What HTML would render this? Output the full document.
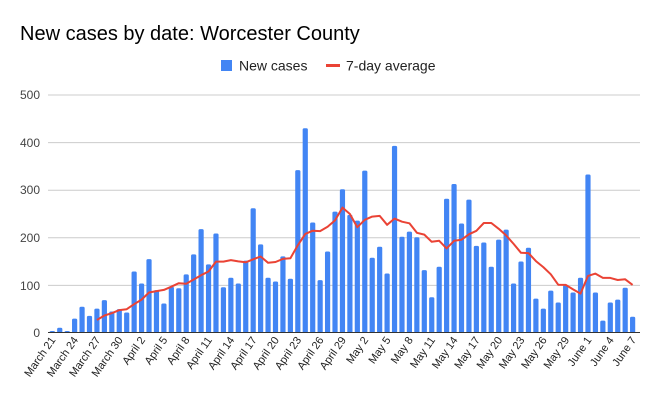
<!DOCTYPE html>
<html><head><meta charset="utf-8"><style>
body{margin:0;background:#fff;}
svg{display:block;font-family:"Liberation Sans",Arial,sans-serif;}
</style></head><body>
<svg id="s" width="658" height="407" viewBox="0 0 658 407">
<rect width="658" height="407" fill="#fff"/>
<text x="20" y="40" font-size="20" fill="#000">New cases by date: Worcester County</text>
<rect x="221" y="60" width="11" height="11" fill="#4285f4"/>
<text x="239" y="70.5" font-size="14" fill="#222">New cases</text>
<line x1="326" y1="65.5" x2="340" y2="65.5" stroke="#ea4335" stroke-width="3"/>
<text x="346" y="70.5" font-size="14" fill="#222">7-day average</text>
<g stroke="#ccc" stroke-width="1">
<line x1="48" x2="640" y1="95" y2="95"/>
<line x1="48" x2="640" y1="142.6" y2="142.6"/>
<line x1="48" x2="640" y1="190.2" y2="190.2"/>
<line x1="48" x2="640" y1="237.8" y2="237.8"/>
<line x1="48" x2="640" y1="285.4" y2="285.4"/>
</g>
<g font-size="12" fill="#444" text-anchor="end">
<text x="40" y="99">500</text>
<text x="40" y="147">400</text>
<text x="40" y="194">300</text>
<text x="40" y="242">200</text>
<text x="40" y="290">100</text>
<text x="40" y="337">0</text>
</g>
<g id="bars"></g>
<line x1="48" x2="640" y1="332.5" y2="332.5" stroke="#333" stroke-width="1"/>
<polyline id="avg" fill="none" stroke="#ea4335" stroke-width="2" stroke-linejoin="round"/>
<g font-size="11" fill="#222" text-anchor="end">
<text transform="translate(56,340) rotate(-55)">March 21</text>
<text transform="translate(78.6,340) rotate(-55)">March 24</text>
<text transform="translate(100.9,340) rotate(-55)">March 27</text>
<text transform="translate(123.3,340) rotate(-55)">March 30</text>
<text transform="translate(145.6,340) rotate(-55)">April 2</text>
<text transform="translate(167.9,340) rotate(-55)">April 5</text>
<text transform="translate(190.2,340) rotate(-55)">April 8</text>
<text transform="translate(212.5,340) rotate(-55)">April 11</text>
<text transform="translate(234.9,340) rotate(-55)">April 14</text>
<text transform="translate(257.2,340) rotate(-55)">April 17</text>
<text transform="translate(279.5,340) rotate(-55)">April 20</text>
<text transform="translate(301.8,340) rotate(-55)">April 23</text>
<text transform="translate(324.1,340) rotate(-55)">April 26</text>
<text transform="translate(346.5,340) rotate(-55)">April 29</text>
<text transform="translate(368.8,340) rotate(-55)">May 2</text>
<text transform="translate(391.1,340) rotate(-55)">May 5</text>
<text transform="translate(413.4,340) rotate(-55)">May 8</text>
<text transform="translate(435.7,340) rotate(-55)">May 11</text>
<text transform="translate(458.1,340) rotate(-55)">May 14</text>
<text transform="translate(480.4,340) rotate(-55)">May 17</text>
<text transform="translate(502.7,340) rotate(-55)">May 20</text>
<text transform="translate(525,340) rotate(-55)">May 23</text>
<text transform="translate(547.3,340) rotate(-55)">May 26</text>
<text transform="translate(569.7,340) rotate(-55)">May 29</text>
<text transform="translate(592,340) rotate(-55)">June 1</text>
<text transform="translate(614.3,340) rotate(-55)">June 4</text>
<text transform="translate(636.6,340) rotate(-55)">June 7</text>
</g>
</svg>
<script>
var d=[2,9,2,28,53,34,49,67,43,48,41,127,102,153,88,60,95,92,121,163,216,142,207,94,114,102,150,260,184,114,106,159,112,340,428,230,109,169,253,
300,246,234,339,156,179,123,391,200,211,199,130,73,137,280,311,228,278,181,188,137,194,215,102,148,177,70,49,87,62,99,83,114,331,83,24,62,68,93,32];
var g=document.getElementById('bars'),ns='http://www.w3.org/2000/svg',pts=[];
function Y(v){return 332-v*0.476;}
for(var i=0;i<d.length;i++){var x=52.3+i*7.44;var r=document.createElementNS(ns,'rect');
var h=d[i]*0.476;r.setAttribute('x',x-2.6);r.setAttribute('y',332-h);r.setAttribute('width',5.2);r.setAttribute('height',h+1);
r.setAttribute('rx',1.5);r.setAttribute('fill','#4285f4');g.appendChild(r);
if(i>=6){var s=0;for(var j=i-6;j<=i;j++)s+=d[j];pts.push(x.toFixed(1)+','+Y(s/7).toFixed(1));}}
document.getElementById('avg').setAttribute('points',pts.join(' '));
</script>
</body></html>
